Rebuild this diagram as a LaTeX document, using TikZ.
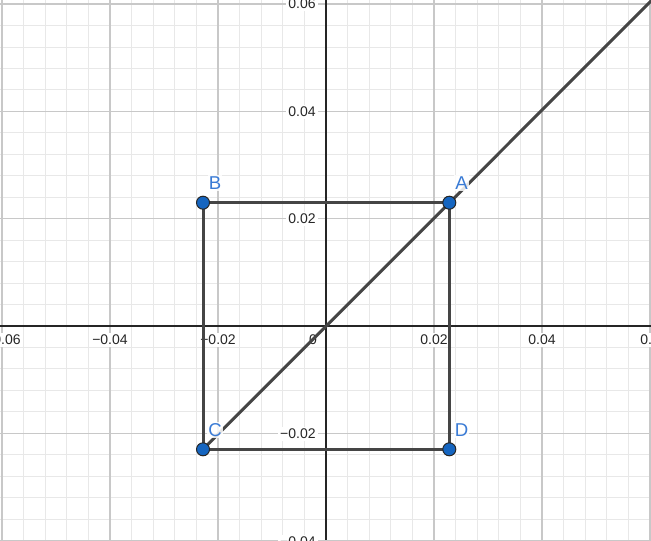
\documentclass[tikz,border=0pt]{standalone}
\usepackage{fontspec}
\setmainfont{Liberation Sans}
\definecolor{minorgrid}{HTML}{E8E8E8}
\definecolor{majorgrid}{HTML}{C8C8C8}
\definecolor{axiscol}{HTML}{252525}
\definecolor{segcol}{HTML}{454545}
\definecolor{ptblue}{HTML}{1565C0}
\definecolor{lblblue}{HTML}{3A7BD5}
\tikzset{
  minorline/.style={minorgrid, line width=0.5pt},
  majorline/.style={majorgrid, line width=0.6pt},
  axisline/.style={axiscol, line width=0.75pt},
  seg/.style={segcol, line width=1.5pt},
  pt/.style={circle, fill=ptblue, draw=black!85, line width=0.5pt, inner sep=0pt, minimum size=6.5pt},
  ptlabel/.style={text=lblblue, font=\fontsize{9.3pt}{10pt}\selectfont, inner sep=0.6pt, fill=white, fill opacity=0.85, text opacity=1},
  ticklabel/.style={text=black!85, font=\fontsize{7pt}{8pt}\selectfont, fill=white, inner sep=1pt}
}
\begin{document}
\begin{tikzpicture}[x=0.5pt,y=-0.5pt]
\useasboundingbox (0,0) rectangle (651,540);
\fill[white] (0,0) rectangle (651,540);
\begin{scope}
\clip (0,0) rectangle (651,540);
% minor grid
\foreach \k in {-16,...,16} {
  \draw[minorline] ({326+\k*21.6},0) -- ({326+\k*21.6},540);
}
\foreach \k in {-16,...,11} {
  \draw[minorline] (0,{326+\k*21.46}) -- (651,{326+\k*21.46});
}
% major grid
\foreach \k in {-3,...,3} {
  \draw[majorline] ({326+\k*108},0) -- ({326+\k*108},540);
}
\foreach \k in {-3,...,2} {
  \draw[majorline] (0,{326+\k*107.3}) -- (651,{326+\k*107.3});
}
% axes
\draw[axisline] (0,326) -- (651,326);
\draw[axisline] (326,0) -- (326,540);
% tick labels x
\node[ticklabel] (xm06) at (3,340) {−0.06};
\node[ticklabel] (xm04) at (110,340) {−0.04};
\node[ticklabel] (xm02) at (218,340) {−0.02};
\node[ticklabel] (x0) at (313,340) {0};
\node[ticklabel] (x02) at (434,340) {0.02};
\node[ticklabel] (x04) at (542,340) {0.04};
\node[ticklabel] (x06) at (654,340) {0.06};
% tick labels y
\node[ticklabel, anchor=east] (y06) at (318,4) {0.06};
\node[ticklabel, anchor=east] (y04) at (318,112) {0.04};
\node[ticklabel, anchor=east] (y02) at (318,219) {0.02};
\node[ticklabel, anchor=east] (ym02) at (318,434) {−0.02};
\node[ticklabel, anchor=east] (ym04) at (318,542) {−0.04};
% points
\coordinate (Ap) at (449.3,202.7);
\coordinate (Bp) at (203,202.7);
\coordinate (Cp) at (203,449.3);
\coordinate (Dp) at (449.3,449.3);
\coordinate (Ep) at (680,-28);
% segments
\draw[seg] (Bp) -- (Ap);
\draw[seg] (Ap) -- (Dp);
\draw[seg] (Bp) -- (Cp);
\draw[seg] (Cp) -- (Dp);
\draw[seg] (Cp) -- (Ep);
\end{scope}
\node[pt] (A) at (Ap) {};
\node[pt] (B) at (Bp) {};
\node[pt] (C) at (Cp) {};
\node[pt] (D) at (Dp) {};
\node[ptlabel] (lA) at (461.5,183) {A};
\node[ptlabel] (lB) at (215,183) {B};
\node[ptlabel] (lC) at (215,430) {C};
\node[ptlabel] (lD) at (461.5,430) {D};
\end{tikzpicture}
\end{document}
